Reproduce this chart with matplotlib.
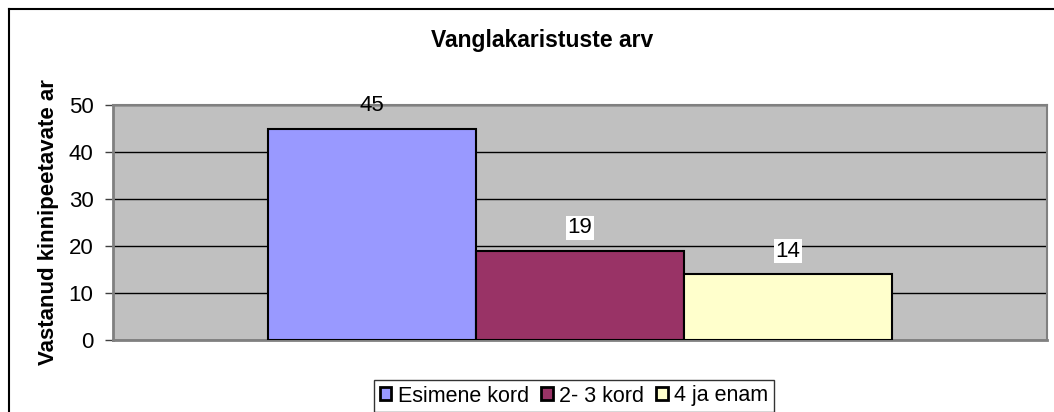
import numpy as np
import matplotlib.pyplot as plt
from matplotlib.lines import Line2D

plt.rcParams['font.family'] = ['Liberation Sans', 'DejaVu Sans']

series = ['Esimene kord', '2- 3 kord', '4 ja enam']
values = [45, 19, 14]
colors = ['#9999FF', '#993366', '#FFFFCC']

fig = plt.figure(figsize=(10.54, 4.12), dpi=100)
ax = fig.add_axes([113 / 1054, 1 - 340 / 412, 934 / 1054, 235 / 412])
ax.set_facecolor('#C0C0C0')

width = 0.2227
x = (np.arange(len(values)) - 1) * width
for xi, v, c, name in zip(x, values, colors, series):
    ax.bar(xi, v, width, color=c, edgecolor='black', linewidth=1.5, label=name, zorder=3)
    box = dict(facecolor='white', edgecolor='none', pad=1) if v != max(values) else None
    ax.annotate(str(v), (xi, v), xytext=(0, 23), textcoords='offset pixels',
                ha='center', va='center', fontsize=16, zorder=4, bbox=box)

ax.set_xlim(-0.5, 0.5)
ax.set_ylim(0, 50)
ax.set_yticks([0, 10, 20, 30, 40, 50])
ax.set_xticks([])
ax.yaxis.grid(True, color='black', linewidth=1, zorder=0)
ax.set_axisbelow(True)
ax.tick_params(axis='y', labelsize=16, length=6, width=1, color='#404040', pad=8)
for s in ['left', 'bottom']:
    ax.spines[s].set_color('#808080')
    ax.spines[s].set_linewidth(2)
for s in ['top', 'right']:
    ax.spines[s].set_color('#808080')
    ax.spines[s].set_linewidth(1.5)

ax.set_ylabel('Vastanud kinnipeetavate ar', fontsize=16, fontweight='bold', labelpad=7)
fig.text(542 / 1054, 1 - 40 / 412, 'Vanglakaristuste arv', ha='center', va='center',
         fontsize=16.5, fontweight='bold')

leg = fig.legend(loc='center', bbox_to_anchor=(574 / 1054, 1 - 396 / 412), ncol=3,
                 fontsize=15.5, frameon=True, fancybox=False, edgecolor='black',
                 handlelength=0.55, handleheight=0.55, handletextpad=0.3,
                 columnspacing=0.55, borderpad=0.25, borderaxespad=0)
leg.get_frame().set_linewidth(1)
for h in leg.legend_handles:
    h.set_linewidth(2)

# outer chart border (top and left only visible)
fig.add_artist(Line2D([9 / 1054, 1.01], [1 - 9 / 412, 1 - 9 / 412], color='black', linewidth=1.5,
                      transform=fig.transFigure))
fig.add_artist(Line2D([9 / 1054, 9 / 1054], [1 - 9 / 412, -0.01], color='black', linewidth=1.5,
                      transform=fig.transFigure))

plt.savefig('out.png', dpi=100)
